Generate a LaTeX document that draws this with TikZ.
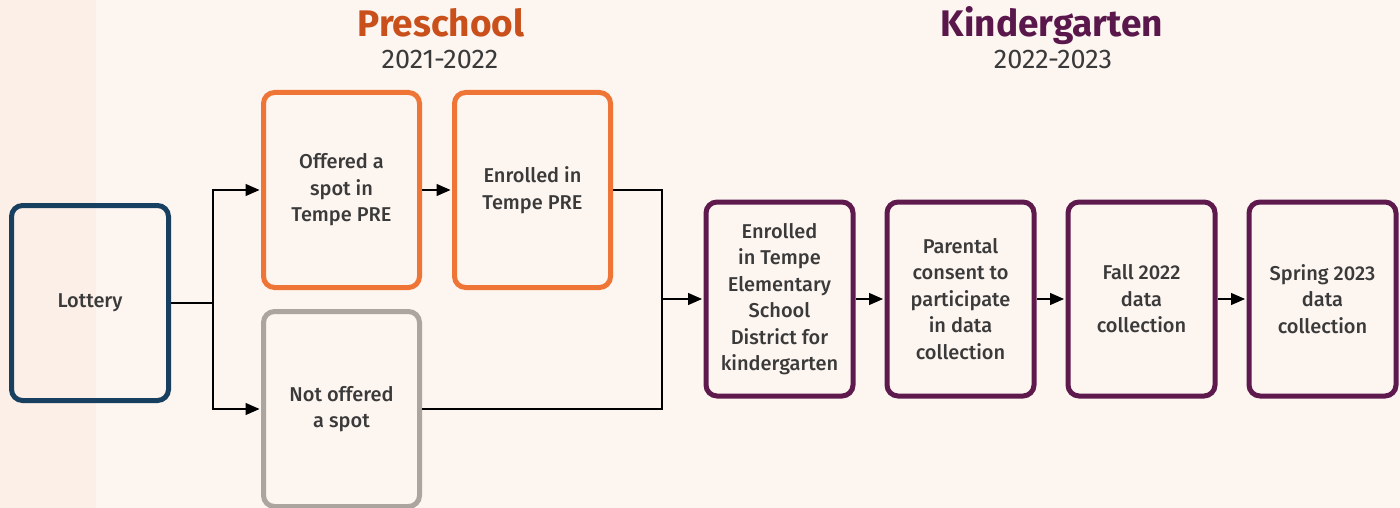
\documentclass[tikz,border=0pt]{standalone}
\usepackage{fontspec}
\setmainfont{Fira Sans}[UprightFont=* Medium, BoldFont=* Bold]
\newfontfamily\yearfont{Fira Sans}
\usetikzlibrary{positioning,arrows.meta}
\definecolor{bgmain}{HTML}{FDF5F0}
\definecolor{bgstrip}{HTML}{FCEFE7}
\definecolor{navy}{HTML}{173F5F}
\definecolor{orangebox}{HTML}{EF7536}
\definecolor{greybox}{HTML}{ABA49F}
\definecolor{plum}{HTML}{5E1A4D}
\definecolor{preorange}{HTML}{C9501B}
\definecolor{kplum}{HTML}{5A174B}
\definecolor{textgrey}{HTML}{3A3A3A}
\tikzset{
  every node/.style={text=textgrey, align=center, inner sep=0pt},
  box/.style={draw, line width=5pt, rounded corners=11pt, minimum width=156pt, minimum height=195pt, font=\fontsize{20}{26.5}\selectfont},
  kbox/.style={box, draw=plum, minimum width=147pt, minimum height=194pt},
  link/.style={draw=black, line width=1.3pt},
  arr/.style={link, -{Triangle[length=14pt,width=12pt]}, shorten >=1.5pt},
  heading/.style={font=\fontsize{37}{37}\selectfont\bfseries},
  years/.style={font=\fontsize{27}{27}\selectfont\yearfont, text=textgrey}
}

\begin{document}
\begin{tikzpicture}[x=1pt, y=-1pt]
  % Background
  \fill[bgmain] (0,0) rectangle (1400,508);
  \fill[bgstrip] (0,0) rectangle (96,508);
  \useasboundingbox (0,0) rectangle (1400,508);

  % Headings
  \node (preschool) [heading, text=preorange, anchor=base] at (441,37) {Preschool};
  \node (preyears) [years, anchor=base] at (440,69) {2021-2022};
  \node (kinder) [heading, text=kplum, anchor=base] at (1052,37) {Kindergarten};
  \node (kyears) [years, anchor=base] at (1053,69) {2022-2023};

  % Nodes
  \node (lottery) [box, draw=navy, minimum width=157pt] at (90,303) {Lottery};
  \node (offered) [box, draw=orangebox] at (341.5,190) {Offered a\\spot in\\Tempe PRE};
  \node (enrolledpre) [box, draw=orangebox, right=30pt of offered] {Enrolled in\\Tempe PRE};
  \node (notoffered) [box, draw=greybox, below=19pt of offered] {Not offered\\a spot};
  \node (k1) [kbox] at (779.5,299) {Enrolled\\in Tempe\\Elementary\\School\\District for\\kindergarten};
  \node (k2) [kbox, right=29pt of k1] {Parental\\consent to\\participate\\in data\\collection};
  \node (k3) [kbox, right=29pt of k2] {Fall 2022\\data\\collection};
  \node (k4) [kbox, right=29pt of k3] {Spring 2023\\data\\collection};

  \coordinate (split) at (213,303);
  \coordinate (merge) at (662,299);

  \draw[link] (lottery.east) -- (split);
  \draw[arr] (split) |- (offered.west);
  \draw[arr] (split) |- (notoffered.west);
  \draw[arr] (offered) -- (enrolledpre);
  \draw[link] (enrolledpre.east) -| (merge);
  \draw[link] (notoffered.east) -| (merge);
  \draw[arr] (merge) -- (k1.west);
  \draw[arr] (k1) -- (k2);
  \draw[arr] (k2) -- (k3);
  \draw[arr] (k3) -- (k4);
\end{tikzpicture}
\end{document}
